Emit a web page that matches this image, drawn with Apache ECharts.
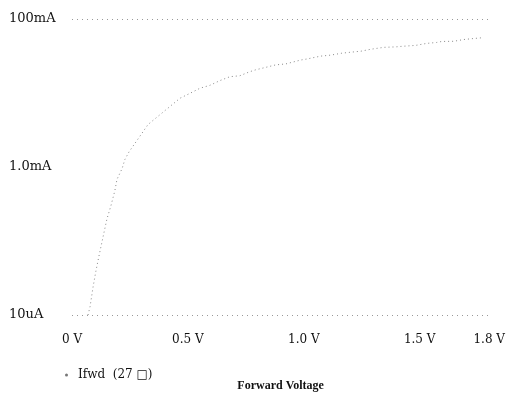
<!DOCTYPE html>
<html>
<head>
<meta charset="utf-8">
<script src="https://cdn.jsdelivr.net/npm/echarts@6/dist/echarts.min.js"></script>
<style>
  html, body { margin: 0; padding: 0; background: #fff; }
  #chart { width: 508px; height: 397px; }
</style>
</head>
<body>
<div id="chart"></div>
<script>
// forward voltage (V) and forward current (A)
var voltage = [0.069, 0.078, 0.091, 0.103, 0.116, 0.138, 0.151, 0.168, 0.185, 0.194,
  0.216, 0.228, 0.246, 0.328, 0.466, 0.509, 0.552, 0.595, 0.638, 0.681,
  0.724, 0.767, 0.793, 0.828, 0.879, 0.922, 0.987, 1.013, 1.073, 1.116,
  1.164, 1.203, 1.246, 1.289, 1.345, 1.397, 1.422, 1.483, 1.530, 1.573,
  1.595, 1.647, 1.690, 1.733, 1.776];
var current = [1.0e-5, 1.3e-5, 2.4e-5, 3.9e-5, 6.2e-5, 1.3e-4, 2.0e-4, 3.0e-4, 4.8e-4, 6.8e-4,
  9.5e-4, 1.26e-3, 1.6e-3, 3.75e-3, 8.5e-3, 9.9e-3, 0.0116, 0.0127, 0.0147, 0.0166,
  0.0171, 0.0194, 0.0206, 0.0219, 0.024, 0.0247, 0.0279, 0.0288, 0.0315, 0.0325,
  0.0345, 0.0356, 0.0367, 0.039, 0.0414, 0.042, 0.0427, 0.044, 0.0468, 0.0482,
  0.0497, 0.050, 0.0528, 0.0545, 0.056];

var xTicks = [0, 0.5, 1.0, 1.5, 1.8];
var xTickLabels = ["0 V", "0.5 V", "1.0 V", "1.5 V", "1.8 V"];
var yTickExp = [-1, -3, -5];
var yTickLabels = ["100mA", "1.0mA", "10uA"];
var seriesName = "Ifwd  (27 \u25a1)";

var points = voltage.map(function (v, i) { return [v, current[i]]; });

var myChart = echarts.init(document.getElementById("chart"));

var option = {
  animation: false,
  backgroundColor: "#fff",
  grid: { left: 72, right: 18, top: 19, bottom: 75 },
  legend: {
    left: 60,
    top: 364,
    icon: "circle",
    itemWidth: 3,
    itemHeight: 3,
    data: [seriesName],
    textStyle: { fontFamily: "DejaVu Serif", fontSize: 12, color: "#111", padding: [0, 0, 0, 5] }
  },
  xAxis: {
    type: "value",
    min: 0,
    max: 1.8,
    interval: 0.5,
    name: "Forward Voltage",
    nameLocation: "middle",
    nameGap: 65,
    nameTextStyle: { fontFamily: "Liberation Serif", fontWeight: "bold", fontSize: 12, color: "#111" },
    axisLine: { show: false },
    axisTick: { show: false },
    splitLine: { show: false },
    axisLabel: {
      margin: 19,
      fontFamily: "DejaVu Serif",
      fontSize: 12,
      color: "#111",
      showMaxLabel: true,
      formatter: function (v) {
        for (var i = 0; i < xTicks.length; i++) {
          if (Math.abs(xTicks[i] - v) < 1e-6) return xTickLabels[i];
        }
        return "";
      }
    }
  },
  yAxis: {
    type: "log",
    logBase: 10,
    min: 1e-5,
    max: 0.1,
    axisLine: { show: false },
    axisTick: { show: false },
    splitLine: {
      show: true,
      lineStyle: {
        type: [1, 4],
        width: 1,
        color: ["#999", "transparent", "transparent", "transparent", "#999"]
      }
    },
    axisLabel: {
      align: "left",
      margin: 63,
      fontFamily: "DejaVu Serif",
      fontSize: 13,
      color: "#111",
      formatter: function (v) {
        var e = Math.round(Math.log10(v));
        var i = yTickExp.indexOf(e);
        return i >= 0 ? yTickLabels[i] : "";
      }
    }
  },
  series: [
    {
      name: seriesName,
      type: "line",
      symbol: "none",
      smooth: false,
      data: points,
      itemStyle: { color: "#777" },
      lineStyle: { color: "#888", width: 1, type: [1, 3] }
    }
  ]
};

myChart.setOption(option);
</script>
</body>
</html>
